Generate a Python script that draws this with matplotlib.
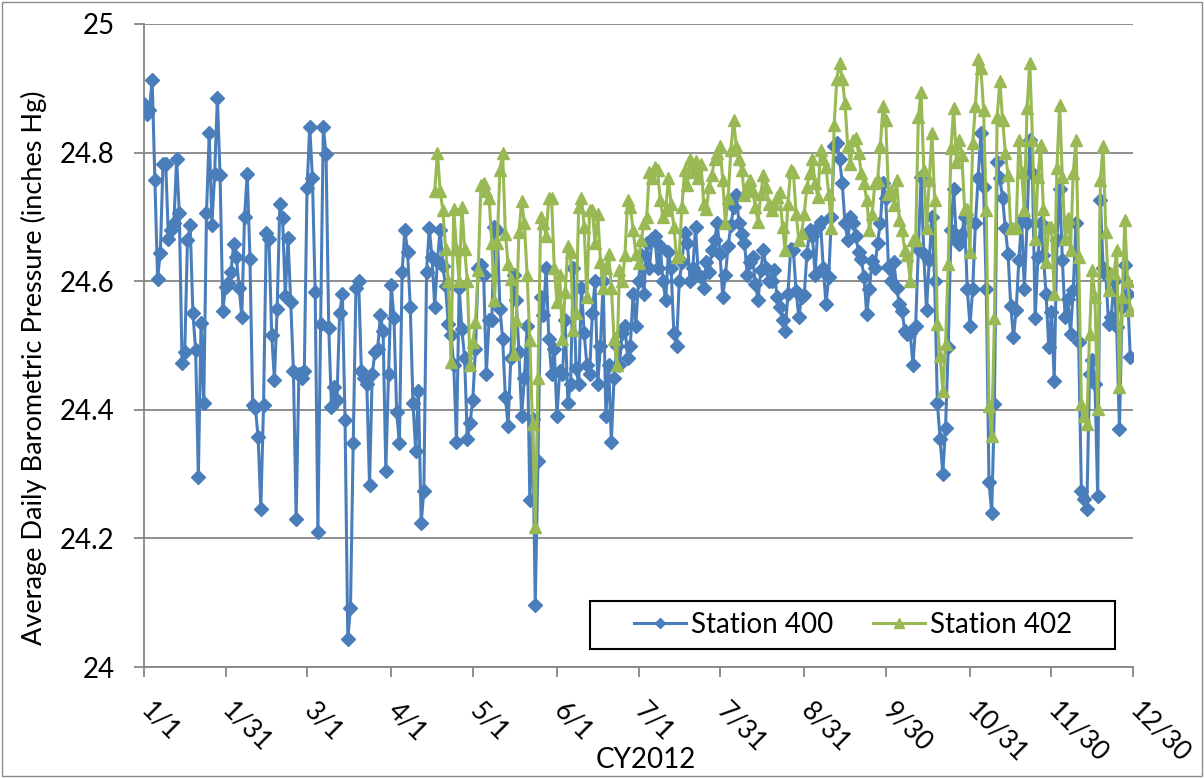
import matplotlib
matplotlib.use("Agg")
import matplotlib.pyplot as plt
import matplotlib.transforms as mtransforms
import numpy as np
from matplotlib.patches import Rectangle

# daily averages, one value per day
START_400 = "2012-01-01"
START_402 = "2012-04-17"

station_400 = [
    # Jan / Feb
    24.875, 24.86, 24.867, 24.913, 24.758, 24.604, 24.644, 24.783, 24.782, 24.665,
    24.68, 24.69, 24.79, 24.706, 24.473, 24.49, 24.664, 24.687, 24.55, 24.493,
    24.296, 24.535, 24.41, 24.706, 24.83, 24.688, 24.767, 24.885, 24.765, 24.554,
    24.591, 24.597, 24.614, 24.658, 24.637, 24.59, 24.545, 24.70, 24.767, 24.635,
    24.407, 24.403, 24.357, 24.246, 24.408, 24.675, 24.665, 24.516, 24.447, 24.557,
    24.72, 24.698, 24.577, 24.667, 24.568, 24.46, 24.23, 24.455, 24.45, 24.46,
    # Mar / Apr
    24.745, 24.84, 24.76, 24.583, 24.21, 24.533, 24.84, 24.798, 24.527, 24.405,
    24.435, 24.415, 24.55, 24.58, 24.384, 24.044, 24.092, 24.348, 24.589, 24.6,
    24.46, 24.45, 24.44, 24.283, 24.455, 24.49, 24.495, 24.547, 24.522, 24.305,
    24.455, 24.594, 24.543, 24.396, 24.348, 24.614, 24.68, 24.646, 24.56, 24.41,
    24.336, 24.43, 24.224, 24.273, 24.615, 24.683, 24.637, 24.56, 24.632, 24.68,
    24.623, 24.592, 24.533, 24.517, 24.47, 24.35,
    # May / Jun
    24.59, 24.526, 24.48, 24.355, 24.38, 24.415, 24.495, 24.62, 24.625, 24.61,
    24.456, 24.54, 24.54, 24.685, 24.68, 24.557, 24.51, 24.42, 24.375, 24.48,
    24.61, 24.57, 24.49, 24.39, 24.45, 24.53, 24.26, 24.385, 24.097, 24.32,
    24.575, 24.547, 24.62, 24.51, 24.456, 24.495, 24.39, 24.46, 24.455, 24.54,
    24.41, 24.44, 24.62, 24.465, 24.44, 24.59, 24.52, 24.47,
    24.455, 24.55, 24.6, 24.44, 24.5, 24.6, 24.39, 24.47, 24.35, 24.45,
    24.5, 24.47, 24.52, 24.53, 24.48, 24.5, 24.58, 24.53, 24.6, 24.64,
    # Jul / Aug
    24.58, 24.66, 24.62, 24.665, 24.67, 24.62, 24.655, 24.6, 24.57, 24.645,
    24.62, 24.52, 24.5, 24.6, 24.63, 24.675, 24.66, 24.6, 24.62, 24.685,
    24.61,
    24.606, 24.59, 24.63, 24.615, 24.648, 24.664, 24.69, 24.643, 24.575, 24.61,
    24.655, 24.687, 24.715, 24.734, 24.69, 24.674, 24.66, 24.61, 24.63, 24.637,
    24.596, 24.57, 24.617, 24.648, 24.62, 24.6, 24.6, 24.617, 24.575, 24.56,
    24.54, 24.523, 24.58, 24.65, 24.648, 24.585, 24.544, 24.575, 24.578, 24.643,
    # Sep / Oct
    24.679, 24.67, 24.61, 24.684, 24.692, 24.62, 24.565, 24.606, 24.70, 24.81,
    24.815, 24.79, 24.752, 24.69, 24.664, 24.70, 24.69, 24.67, 24.645, 24.635,
    24.606, 24.549, 24.588, 24.632, 24.62, 24.66, 24.69, 24.752, 24.73, 24.622,
    24.6, 24.63, 24.59, 24.565, 24.554, 24.523, 24.518,
    24.52, 24.47, 24.53, 24.65, 24.762, 24.643, 24.555, 24.633, 24.70, 24.6,
    24.41, 24.354, 24.30, 24.372, 24.497, 24.68, 24.744, 24.664, 24.658, 24.674,
    24.70, 24.588, 24.531, 24.588, 24.69, 24.76, 24.83, 24.747, 24.588, 24.287,
    # Nov / Dec
    24.24, 24.409, 24.786, 24.76, 24.729, 24.682, 24.643, 24.562, 24.513, 24.555,
    24.633, 24.695, 24.588, 24.69, 24.82, 24.768, 24.542, 24.638, 24.69, 24.64,
    24.58, 24.497, 24.552, 24.445, 24.664, 24.744, 24.633, 24.544, 24.573, 24.518,
    24.586, 24.69, 24.505, 24.274, 24.261, 24.245, 24.456, 24.477, 24.44, 24.266,
    24.726, 24.62, 24.61, 24.534, 24.544, 24.6, 24.528, 24.37, 24.56, 24.625,
    24.58, 24.482,
]

station_402 = [
    24.74, 24.80, 24.74, 24.71, 24.65, 24.60, 24.475, 24.713, 24.65, 24.60,
    24.716, 24.65, 24.60, 24.47, 24.505, 24.537, 24.617, 24.75, 24.752, 24.74,
    24.73, 24.66, 24.57, 24.66, 24.773, 24.80, 24.674, 24.627, 24.604, 24.487,
    24.54, 24.677, 24.724, 24.69, 24.61, 24.508, 24.378, 24.217, 24.45, 24.70,
    24.69, 24.67, 24.73, 24.73, 24.62, 24.568, 24.61, 24.51, 24.583, 24.654,
    24.646, 24.524, 24.55, 24.716, 24.73, 24.685, 24.576, 24.71,
    24.71, 24.66, 24.705, 24.63, 24.59, 24.62, 24.643, 24.59, 24.51, 24.47,
    24.617, 24.60, 24.64, 24.726, 24.715, 24.68, 24.643, 24.628, 24.664, 24.69,
    24.7, 24.77, 24.76, 24.778, 24.773, 24.726, 24.70, 24.71, 24.76, 24.72,
    24.685, 24.638, 24.643, 24.716, 24.773, 24.75, 24.79, 24.77, 24.787, 24.76,
    24.783, 24.72, 24.712, 24.747, 24.765, 24.79, 24.80, 24.81, 24.757, 24.69,
    24.73, 24.804, 24.851, 24.81, 24.79, 24.773, 24.734, 24.747, 24.757, 24.74,
    24.716, 24.692, 24.736, 24.765, 24.747, 24.72, 24.71, 24.72, 24.731, 24.739,
    24.684, 24.648, 24.72, 24.773, 24.77, 24.705, 24.664, 24.675, 24.705, 24.747,
    24.768, 24.79, 24.752, 24.731, 24.804, 24.79, 24.778, 24.736, 24.682, 24.843,
    24.914, 24.94, 24.914, 24.877, 24.81, 24.783, 24.82, 24.822, 24.8, 24.768,
    24.752, 24.726, 24.679, 24.705, 24.752, 24.757, 24.81, 24.872, 24.85, 24.736,
    24.74, 24.718, 24.757, 24.695, 24.68, 24.648, 24.64,
    24.6, 24.664, 24.664, 24.856, 24.895, 24.773, 24.682, 24.757, 24.83, 24.726,
    24.534, 24.484, 24.43, 24.503, 24.627, 24.807, 24.869, 24.786, 24.82, 24.796,
    24.713, 24.713, 24.646, 24.815, 24.872, 24.945, 24.932, 24.867, 24.71, 24.406,
    24.36, 24.542, 24.856, 24.911, 24.851, 24.8, 24.765, 24.682, 24.682, 24.684,
    24.82, 24.77, 24.71, 24.869, 24.94, 24.82, 24.666, 24.762, 24.812, 24.713,
    24.63, 24.684, 24.684, 24.58, 24.776, 24.874, 24.762, 24.666, 24.698, 24.648,
    24.768, 24.82, 24.638, 24.409, 24.39, 24.378, 24.518, 24.617, 24.575, 24.401,
    24.757, 24.81, 24.677, 24.586, 24.612, 24.612, 24.648, 24.435, 24.575, 24.695,
    24.6, 24.555,
]

tick_dates = ["2012-01-01", "2012-01-31", "2012-03-01", "2012-04-01", "2012-05-01",
              "2012-06-01", "2012-07-01", "2012-07-31", "2012-08-31", "2012-09-30",
              "2012-10-31", "2012-11-30", "2012-12-30"]
tick_labels = ["1/1", "1/31", "3/1", "4/1", "5/1", "6/1", "7/1", "7/31", "8/31",
               "9/30", "10/31", "11/30", "12/30"]
y_ticks = [24.0, 24.2, 24.4, 24.6, 24.8, 25.0]
y_tick_labels = ["24", "24.2", "24.4", "24.6", "24.8", "25"]

BLUE = "#4a7ebb"
GREEN = "#98b954"
GRID = "#868686"


def daily(start, values):
    return np.datetime64(start) + np.arange(len(values))


def main():
    plt.rcParams["font.family"] = ["Lato", "DejaVu Sans"]
    fig = plt.figure(figsize=(12.04, 7.78), dpi=100)
    ax = fig.add_axes([144 / 1204, 1 - 667 / 778, (1133 - 144) / 1204, (667 - 24) / 778])

    ax.plot(daily(START_400, station_400), station_400, color=BLUE, lw=2.2,
            marker="D", ms=7, mec=BLUE, mfc=BLUE, label="Station 400", zorder=3)
    ax.plot(daily(START_402, station_402), station_402, color=GREEN, lw=2.2,
            marker="^", ms=8.5, mec=GREEN, mfc=GREEN, label="Station 402", zorder=4)

    ax.set_xlim(np.datetime64(tick_dates[0]), np.datetime64(tick_dates[-1]))
    ax.set_ylim(24, 25)
    ax.set_yticks(y_ticks)
    ax.set_yticklabels(y_tick_labels, fontsize=20)
    ax.set_xticks([np.datetime64(d) for d in tick_dates])
    ax.set_xticklabels(tick_labels, fontsize=19, rotation=-45, ha="left", va="top")

    ax.grid(axis="y", color=GRID, lw=1.3)
    ax.set_axisbelow(True)
    for side in ["top", "right"]:
        ax.spines[side].set_visible(False)
    for side in ["left", "bottom"]:
        ax.spines[side].set_color(GRID)
        ax.spines[side].set_linewidth(1.3)
    ax.tick_params(axis="y", direction="out", length=7, width=1.3, color=GRID, pad=14)
    ax.tick_params(axis="x", direction="out", length=7, width=1.3, color=GRID, pad=15)

    # nudge the slanted date labels left, as excel does (after tick_params, which resets them)
    shift = mtransforms.ScaledTranslation(-8 / 100, 0, fig.dpi_scale_trans)
    for lab in ax.get_xticklabels():
        lab.set_transform(lab.get_transform() + shift)

    ax.set_ylabel("Average Daily Barometric Pressure (inches Hg)", fontsize=19.5)
    ax.yaxis.set_label_coords(-0.098, 0.465)
    ax.set_xlabel("CY2012", fontsize=20, va="top")
    ax.xaxis.set_label_coords(0.507, -0.124)

    # legend box drawn separately: Excel pads it much more sideways than vertically
    fig.patches.append(Rectangle((590 / 1204, 1 - 649 / 778), 525 / 1204, 48 / 778,
                                 transform=fig.transFigure, fill=False,
                                 edgecolor="black", lw=1.5, zorder=5))
    ax.legend(loc="center", bbox_to_anchor=(853 / 1204, 1 - 625 / 778),
              bbox_transform=fig.transFigure, ncol=2, fontsize=20, frameon=True,
              facecolor="white", edgecolor="none", framealpha=1, fancybox=False,
              handlelength=1.85, handletextpad=0.18, columnspacing=1.45,
              borderpad=0.1, markerscale=0.8)

    fig.patches.append(Rectangle((0.002, 0.002), 0.996, 0.996, transform=fig.transFigure,
                                 fill=False, edgecolor="#8c8c8c", lw=1))
    fig.savefig("out.png", dpi=100)


if __name__ == "__main__":
    main()
